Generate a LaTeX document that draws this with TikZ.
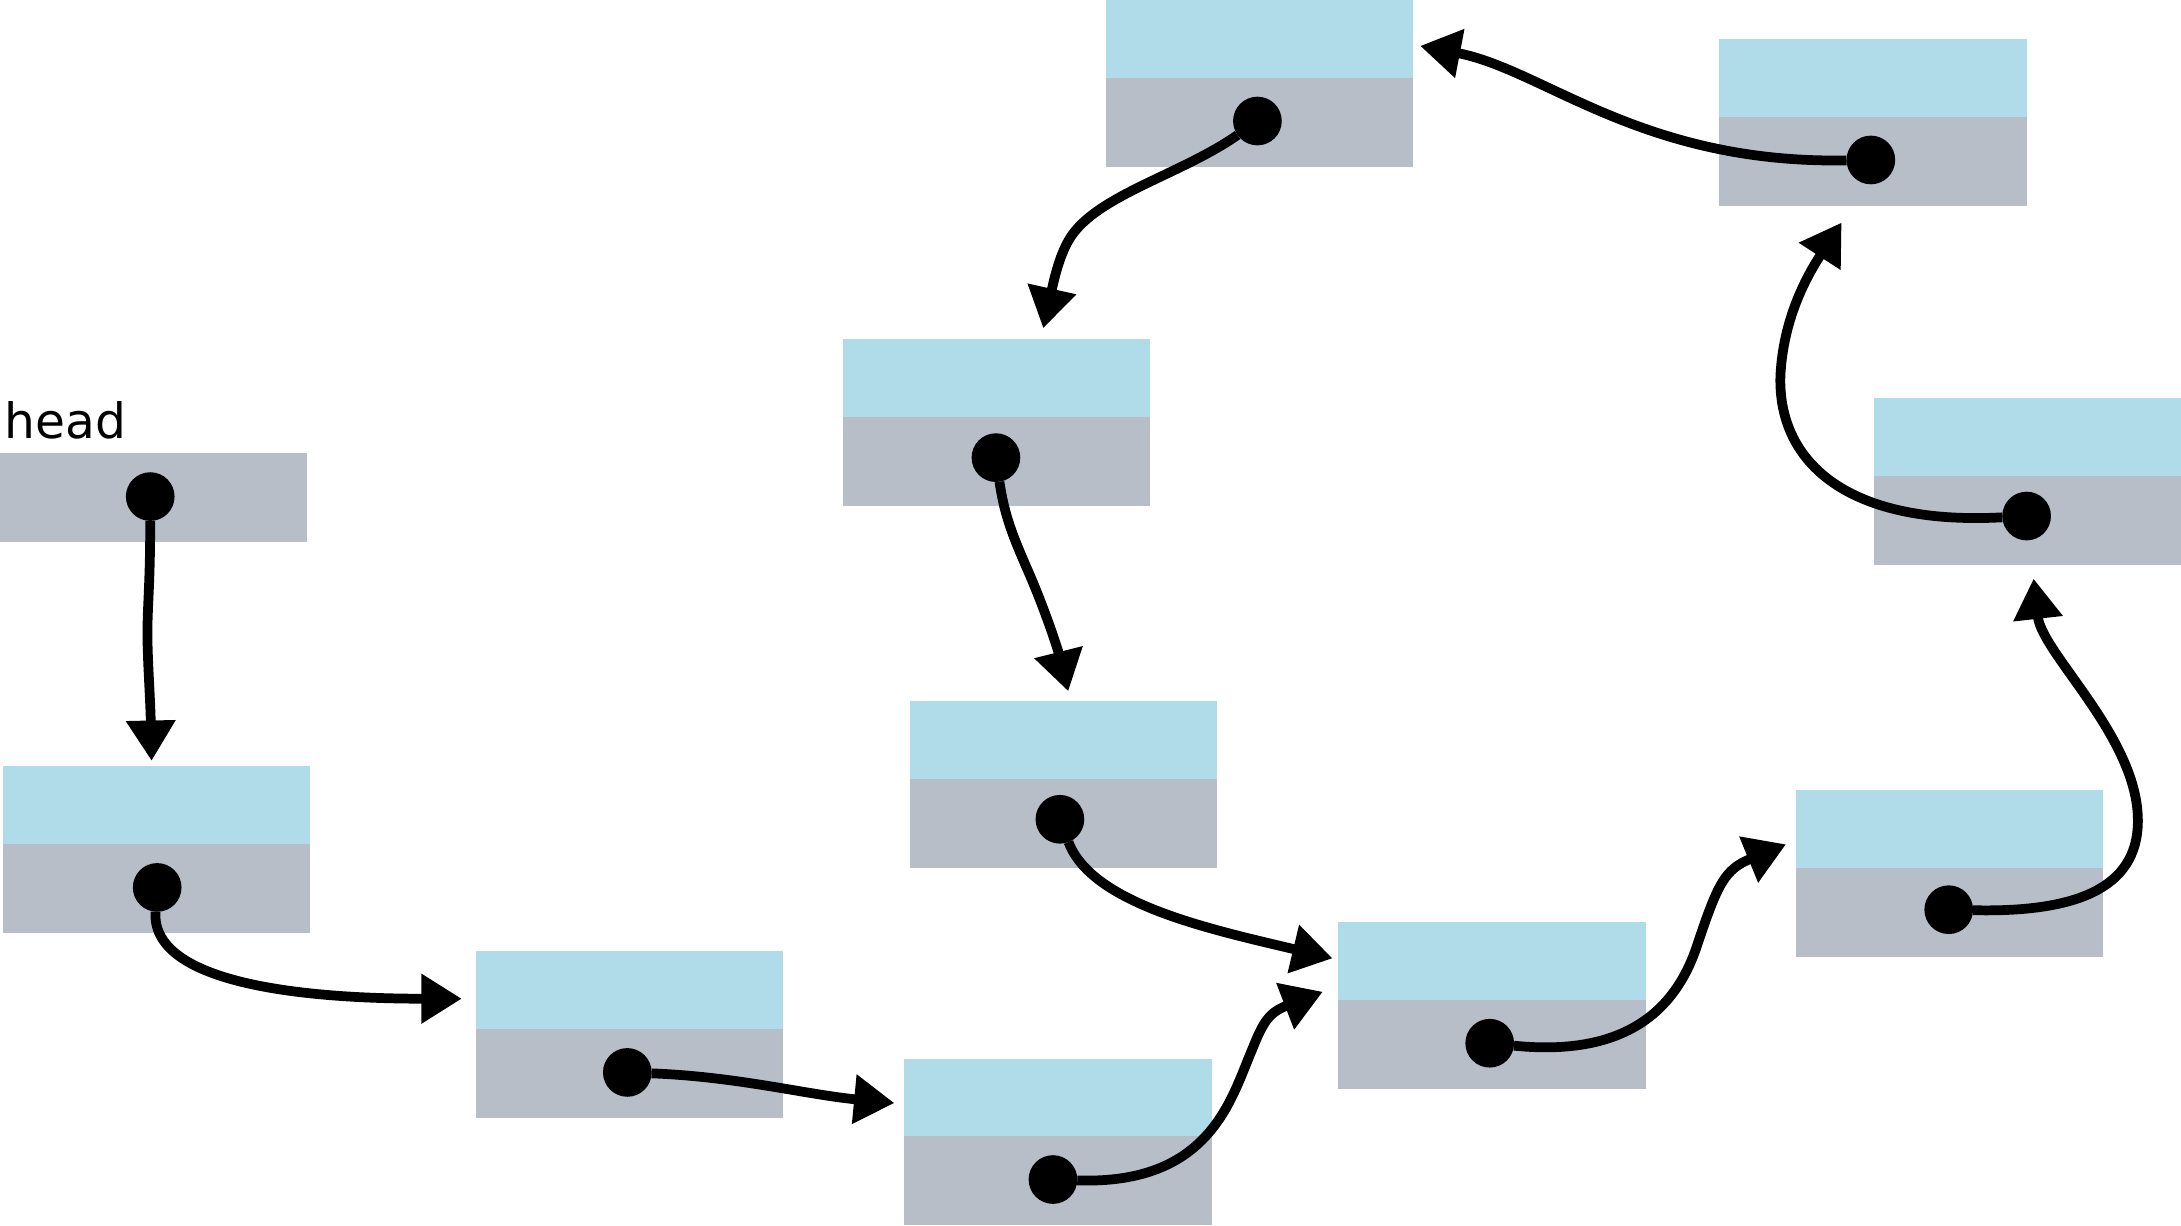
\documentclass[tikz,border=0pt]{standalone}
\usepackage{fontspec}
\setmainfont{DejaVu Sans}
\usetikzlibrary{arrows.meta}
\definecolor{cellblue}{HTML}{AFDCE8}
\definecolor{cellgray}{HTML}{B7BEC8}
\begin{document}
\begin{tikzpicture}[x=1pt,y=-1pt,
  graycell/.style={fill=cellgray, draw=none, minimum width=221pt, minimum height=64pt, inner sep=0pt, outer sep=0pt, anchor=north west},
  bluecell/.style={fill=cellblue, draw=none, minimum width=221pt, minimum height=56pt, inner sep=0pt, outer sep=0pt, anchor=south west},
  ptr/.style={circle, fill=black, minimum size=35pt, inner sep=0pt, outer sep=0pt},
  link/.style={line width=7pt, -{Triangle[length=29pt,width=34pt]}}]
\useasboundingbox (0,0) rectangle (1568,881);
% head
\node[graycell] (gh) at (0,326) {};
\node[anchor=base west, inner sep=0pt, font=\fontsize{35}{42}\selectfont] (lh) at (3,315) {head};
% cells: gray at split, blue above
\node[graycell] (g1) at (2,607) {};   \node[bluecell] (b1) at (2,607) {};
\node[graycell] (g2) at (342,740) {}; \node[bluecell] (b2) at (342,740) {};
\node[graycell] (g3) at (650,817) {}; \node[bluecell] (b3) at (650,817) {};
\node[graycell] (g4) at (962,719) {}; \node[bluecell] (b4) at (962,719) {};
\node[graycell] (g5) at (1291,624) {}; \node[bluecell] (b5) at (1291,624) {};
\node[graycell] (g6) at (1347,342) {}; \node[bluecell] (b6) at (1347,342) {};
\node[graycell] (g7) at (1236,84) {}; \node[bluecell] (b7) at (1236,84) {};
\node[graycell] (g8) at (795,56) {};  \node[bluecell] (b8) at (795,56) {};
\node[graycell] (g9) at (606,300) {}; \node[bluecell] (b9) at (606,300) {};
\node[graycell] (g10) at (654,560) {}; \node[bluecell] (b10) at (654,560) {};
% pointer dots
\node[ptr] (dh) at (108,357) {};
\node[ptr] (d1) at (113,638) {};
\node[ptr] (d2) at (451,771) {};
\node[ptr] (d3) at (757,848) {};
\node[ptr] (d4) at (1071,750) {};
\node[ptr] (d5) at (1401,654) {};
\node[ptr] (d6) at (1457,371) {};
\node[ptr] (d7) at (1345,115) {};
\node[ptr] (d8) at (904,87) {};
\node[ptr] (d9) at (716,329) {};
\node[ptr] (d10) at (762,589) {};
% arrow tips
\coordinate (th) at (109,547);
\coordinate (t1) at (332,718);
\coordinate (t2) at (643,793);
\coordinate (t3) at (951,713);
\coordinate (t10) at (958,689);
\coordinate (t4) at (1284,607);
\coordinate (t5) at (1462,416);
\coordinate (t6) at (1324,160);
\coordinate (t7) at (1021,33);
\coordinate (t8) at (750,236);
\coordinate (t9) at (768,497);
% links
\draw[link] (dh) .. controls (108,420) and (106,435) .. (106,455) .. controls (106,475) and (108,500) .. (th);
\draw[link] (d1) .. controls (108,712) and (240,718) .. (t1);
\draw[link] (d2) .. controls (530,774) and (580,787) .. (t2);
\draw[link] (d3) .. controls (870,852) and (885,790) .. (900,755) .. controls (908,735) and (912,728) .. (t3);
\draw[link] (d10) .. controls (785,650) and (870,668) .. (t10);
\draw[link] (d4) .. controls (1170,760) and (1205,725) .. (1220,680) .. controls (1235,635) and (1240,625) .. (t4);
\draw[link] (d5) .. controls (1490,656) and (1537,640) .. (1537,590) .. controls (1537,530) and (1468,470) .. (t5);
\draw[link] (d6) .. controls (1325,378) and (1278,330) .. (1280,270) .. controls (1282,230) and (1298,200) .. (t6);
\draw[link] (d7) .. controls (1180,118) and (1110,50) .. (t7);
\draw[link] (d8) .. controls (850,125) and (790,140) .. (770,170) .. controls (762,182) and (758,200) .. (t8);
\draw[link] (d9) .. controls (722,370) and (728,385) .. (738,408) .. controls (750,435) and (760,465) .. (t9);
\end{tikzpicture}
\end{document}
